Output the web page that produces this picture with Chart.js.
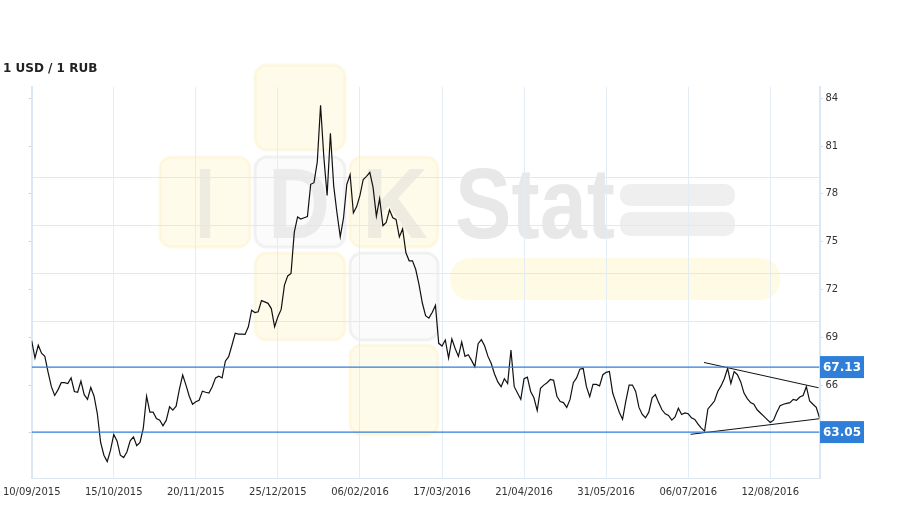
<!DOCTYPE html>
<html lang="en">
<head>
  <meta charset="UTF-8" />
  <title>1 USD / 1 RUB</title>
  <script src="https://cdn.jsdelivr.net/npm/chart.js"></script>
  <style>
    html, body { margin: 0; padding: 0; background: #fff; }
    #wrap { width: 909px; height: 509px; position: relative; }
  </style>
</head>
<body>
  <div id="wrap"><canvas id="rateChart"></canvas></div>

  <script>
    // daily USD/RUB closes, 10/09/2015 .. early 09/2016 (one value per trading day)
    const usdRub = [
      68.78, 67.7, 68.5, 68.0, 67.8, 66.8, 65.9, 65.35, 65.7, 66.15,
      66.15, 66.1, 66.45, 65.6, 65.55, 66.25, 65.4, 65.1, 65.85, 65.3,
      64.2, 62.4, 61.6, 61.2, 61.9, 62.9, 62.5, 61.6, 61.45, 61.8,
      62.5, 62.75, 62.2, 62.4, 63.3, 65.3, 64.3, 64.3, 63.9, 63.8,
      63.45, 63.8, 64.64, 64.43, 64.68, 65.75, 66.63, 66.0, 65.3, 64.8,
      64.95, 65.05, 65.62, 65.55, 65.5, 65.9, 66.45, 66.56, 66.45, 67.5,
      67.78, 68.5, 69.25, 69.2, 69.2, 69.18, 69.66, 70.7, 70.55, 70.6,
      71.3, 71.22, 71.13, 70.8, 69.66, 70.29, 70.75, 72.27, 72.85, 73.01,
      75.6, 76.55, 76.42, 76.5, 76.57, 78.6, 78.7, 80.0, 83.55, 80.3,
      77.9, 81.8, 78.5, 76.8, 75.3, 76.5, 78.6, 79.2, 76.8, 77.2,
      77.9, 78.9, 79.1, 79.35, 78.4, 76.6, 77.7, 76.0, 76.2, 77.0,
      76.5, 76.4, 75.3, 75.8, 74.3, 73.8, 73.8, 73.25, 72.3, 71.15,
      70.35, 70.2, 70.55, 71.0, 68.62, 68.45, 68.83, 67.7, 68.9, 68.3,
      67.8, 68.7, 67.8, 67.9, 67.55, 67.15, 68.6, 68.85, 68.45, 67.8,
      67.35, 66.7, 66.2, 65.9, 66.4, 66.1, 68.2, 65.9, 65.5, 65.1,
      66.4, 66.5, 65.6, 65.2, 64.4, 65.8, 66.0, 66.15, 66.35, 66.3,
      65.3, 64.97, 64.9, 64.6, 65.1, 66.15, 66.45, 67.0, 67.05, 65.9,
      65.27, 66.04, 66.04, 65.95, 66.65, 66.8, 66.85, 65.5, 64.9, 64.3,
      63.85, 65.0, 66.0, 66.0, 65.6, 64.6, 64.16, 63.95, 64.3, 65.2,
      65.4, 64.9, 64.45, 64.2, 64.1, 63.8, 64.0, 64.55, 64.15, 64.25,
      64.2, 63.95, 63.85, 63.55, 63.3, 63.11, 64.5, 64.75, 65.0, 65.6,
      65.95, 66.4, 67.05, 66.1, 66.85, 66.65, 66.2, 65.5, 65.15, 64.9,
      64.8, 64.45, 64.25, 64.05, 63.85, 63.65, 63.8, 64.3, 64.7, 64.8,
      64.85, 64.9, 65.1, 65.05, 65.25, 65.35, 65.9, 65.0, 64.8, 64.6,
      63.95
    ];

    // one date label every 25 trading days
    const dateLabels = ['10/09/2015', '15/10/2015', '20/11/2015', '25/12/2015', '06/02/2016',
                        '17/03/2016', '21/04/2016', '31/05/2016', '06/07/2016', '12/08/2016'];
    const labelStep = 25;

    const yTicks = [63, 66, 69, 72, 75, 78, 81, 84];
    const yMin = 60.17, yMax = 84.71;

    // support / resistance levels shown on the right
    const levels = [67.13, 63.05];

    // triangle drawn at the end: [index, value]
    const upperTrend = [[204.8, 67.42], [239.7, 65.83]];
    const lowerTrend = [[200.7, 62.91], [240, 63.89]];

    // faint background lines that come with the logo
    const bgLines = [70.03, 73.04, 76.05, 79.06];

    const lastIndex = usdRub.length - 1;
    const blue = '#2f7ed8';
    const font = 'DejaVu Sans';

    function roundRect(c, x, y, w, h, r) {
      c.beginPath();
      c.moveTo(x + r, y);
      c.arcTo(x + w, y, x + w, y + h, r);
      c.arcTo(x + w, y + h, x, y + h, r);
      c.arcTo(x, y + h, x, y, r);
      c.arcTo(x, y, x + w, y, r);
      c.closePath();
    }

    // logo in the back of the plot
    const watermark = {
      id: 'watermark',
      beforeDraw(chart) {
        const c = chart.ctx;
        const area = chart.chartArea;
        c.save();
        const yellow = [[255, 65, 90, 85], [160, 157, 90, 90], [350, 157, 88, 90],
                        [255, 253, 90, 87], [350, 345, 88, 90]];
        const white = [[255, 157, 90, 90], [350, 253, 88, 87]];
        c.lineWidth = 3;
        yellow.forEach(([x, y, w, h]) => {
          roundRect(c, x, y, w, h, 12);
          c.fillStyle = 'rgba(255,247,210,0.45)';
          c.strokeStyle = 'rgba(250,238,185,0.35)';
          c.fill(); c.stroke();
        });
        white.forEach(([x, y, w, h]) => {
          roundRect(c, x, y, w, h, 12);
          c.fillStyle = 'rgba(250,250,250,0.8)';
          c.strokeStyle = 'rgba(230,230,230,0.5)';
          c.fill(); c.stroke();
        });
        roundRect(c, 450, 258, 330, 42, 20);
        c.fillStyle = 'rgba(255,246,205,0.55)';
        c.fill();
        c.fillStyle = 'rgba(215,215,215,0.4)';
        roundRect(c, 620, 184, 115, 22, 10); c.fill();
        roundRect(c, 620, 212, 115, 24, 10); c.fill();

        c.fillStyle = 'rgba(200,200,200,0.3)';
        c.textBaseline = 'alphabetic';
        c.textAlign = 'left';
        const word = (txt, x, w) => {
          c.save();
          c.font = 'bold 100px "Liberation Sans"';
          const m = c.measureText(txt).width;
          c.translate(x, 238);
          c.scale(w / m, 1);
          c.fillText(txt, 0, 0);
          c.restore();
        };
        word('I', 195, 20);
        word('D', 268, 62);
        word('K', 362, 66);
        c.fillStyle = 'rgba(200,200,200,0.42)';
        word('Stat', 455, 160);

        const ys = chart.scales.y;
        c.strokeStyle = '#dfe9f3';
        c.lineWidth = 1;
        bgLines.forEach(v => {
          const py = Math.round(ys.getPixelForValue(v)) + 0.5;
          c.beginPath();
          c.moveTo(area.left, py);
          c.lineTo(area.right, py);
          c.stroke();
        });
        c.restore();
      }
    };

    // blue value boxes on the right axis
    const levelTags = {
      id: 'levelTags',
      afterDraw(chart) {
        const c = chart.ctx;
        const ys = chart.scales.y;
        const x0 = chart.chartArea.right + 0.5;
        c.save();
        levels.forEach(v => {
          const py = ys.getPixelForValue(v);
          c.fillStyle = blue;
          c.fillRect(x0, py - 11, 44, 22);
          c.fillStyle = '#fff';
          c.font = 'bold 12px "' + font + '"';
          c.textAlign = 'center';
          c.textBaseline = 'middle';
          c.fillText(v.toFixed(2), x0 + 22, py + 0.5);
        });
        c.restore();
      }
    };

    const flat = v => [{ x: 0, y: v }, { x: lastIndex, y: v }];
    const pairs = arr => arr.map(p => ({ x: p[0], y: p[1] }));

    const axisY = (pos, width, showLabels) => ({
      type: 'linear',
      position: pos,
      min: yMin,
      max: yMax,
      afterBuildTicks: s => { s.ticks = yTicks.map(v => ({ value: v })); },
      afterFit: s => { s.width = width; },
      ticks: {
        color: '#333',
        font: { family: font, size: 10 },
        padding: 3,
        callback: v => showLabels ? String(v) : ''
      },
      grid: { drawOnChartArea: false, tickLength: 3, color: '#c9d5e2' },
      border: { color: '#dbe7f3', width: 2 }
    });

    new Chart(document.getElementById('rateChart'), {
      type: 'line',
      data: {
        datasets: [
          ...levels.map(v => ({
            data: flat(v), borderColor: blue, borderWidth: 1.2, pointRadius: 0, yAxisID: 'y'
          })),
          {
            label: '1 USD / 1 RUB',
            data: usdRub.map((v, i) => ({ x: i, y: v })),
            borderColor: '#111',
            borderWidth: 1.2,
            pointRadius: 0,
            tension: 0,
            yAxisID: 'y'
          },
          { data: pairs(upperTrend), borderColor: '#111', borderWidth: 1, pointRadius: 0, yAxisID: 'y' },
          { data: pairs(lowerTrend), borderColor: '#111', borderWidth: 1, pointRadius: 0, yAxisID: 'y' }
        ]
      },
      options: {
        responsive: true,
        maintainAspectRatio: false,
        animation: false,
        layout: { padding: { left: 3, right: 0, top: 0, bottom: 0 } },
        plugins: {
          legend: { display: false },
          tooltip: { enabled: false },
          title: {
            display: true,
            text: '1 USD / 1 RUB',
            align: 'start',
            color: '#222',
            font: { family: font, size: 12, weight: 'bold' },
            padding: { top: 61.5, bottom: 11 }
          }
        },
        scales: {
          x: {
            type: 'linear',
            min: 0,
            max: lastIndex,
            afterBuildTicks: s => { s.ticks = dateLabels.map((_, i) => ({ value: i * labelStep })); },
            afterFit: s => { s.height = 31; s.paddingLeft = 0; s.paddingRight = 0; },
            ticks: {
              autoSkip: false,
              maxRotation: 0,
              color: '#333',
              font: { family: font, size: 10 },
              padding: 8,
              callback: v => dateLabels[Math.round(v / labelStep)]
            },
            grid: { color: '#e4edf6', drawTicks: false },
            border: { color: '#dbe7f3', width: 1 }
          },
          yl: axisY('left', 28.7, false),
          y: axisY('right', 89.5, true)
        }
      },
      plugins: [watermark, levelTags]
    });
  </script>
</body>
</html>
